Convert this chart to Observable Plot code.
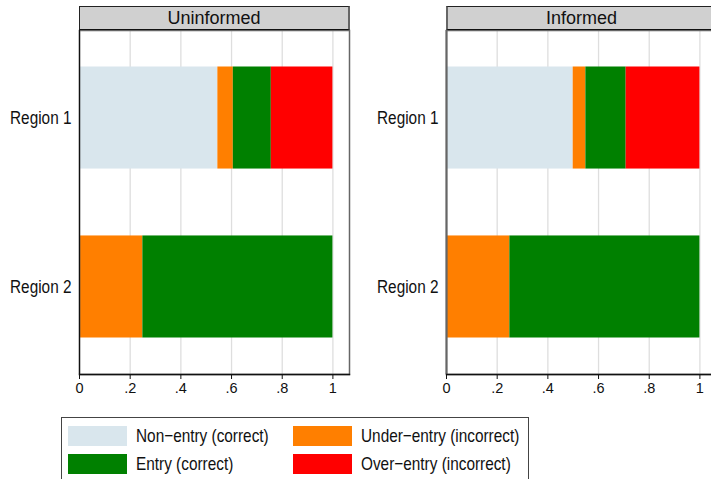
<!DOCTYPE html>
<html>
<head>
<meta charset="utf-8">
<script src="https://cdn.jsdelivr.net/npm/d3@7"></script>
<script src="https://cdn.jsdelivr.net/npm/@observablehq/plot@0.6"></script>
<style>
  html, body { margin: 0; padding: 0; background: #fff; overflow: hidden; }
  body { width: 711px; height: 479px; position: relative; font-family: "Liberation Sans", Arial, Helvetica, sans-serif; }
  .panel { position: absolute; top: 30px; width: 352px; height: 374px; }
  .panel svg { max-width: none !important; }
  .strip { position: absolute; top: 6px; height: 24px; box-sizing: border-box; background: #d0d0d0;
           border-top: 1px solid #222; border-bottom: 1.5px solid #111; border-right: 2px solid #666;
           font-size: 18px; line-height: 22px; text-align: center; color: #111; }
  .legend { position: absolute; left: 61px; top: 417px; width: 468px; height: 80px; box-sizing: border-box;
            border: 1px solid #444; }
  .item { position: absolute; color: #111; white-space: nowrap; transform-origin: 0 50%; }
  .sw { position: absolute; width: 59px; height: 20px; }
</style>
</head>
<body>
<div id="root"></div>
<script>
// ---- data ----
const conditions = ["Uninformed", "Informed"];
const regions = ["Region 1", "Region 2"];
const outcomes = ["Non−entry (correct)", "Under−entry (incorrect)", "Entry (correct)", "Over−entry (incorrect)"];
const outcomeColors = ["#d9e6ed", "#ff7f00", "#008000", "#ff0000"];
// shares per outcome (order as in `outcomes`)
const uninformedRegion1 = [0.546, 0.061, 0.150, 0.243];
const uninformedRegion2 = [0.000, 0.250, 0.750, 0.000];
const informedRegion1 = [0.500, 0.050, 0.159, 0.291];
const informedRegion2 = [0.000, 0.250, 0.750, 0.000];
const xTicks = [0, 0.2, 0.4, 0.6, 0.8, 1];
const xTickLabels = ["0", ".2", ".4", ".6", ".8", "1"];
const legendRows = [["Non−entry (correct)", "Under−entry (incorrect)"], ["Entry (correct)", "Over−entry (incorrect)"]];

const series = {
  "Uninformed": [uninformedRegion1, uninformedRegion2],
  "Informed": [informedRegion1, informedRegion2]
};

function rows(cond) {
  const out = [];
  regions.forEach((r, ri) => {
    outcomes.forEach((o, oi) => {
      out.push({region: r, outcome: o, value: series[cond][ri][oi]});
    });
  });
  return out;
}

const FONT = '"Liberation Sans", Arial, Helvetica, sans-serif';
// condensed label font (narrow face if installed, otherwise horizontally squeezed)
const ctx = document.createElement("canvas").getContext("2d");
ctx.font = '18px "Liberation Sans Narrow", monospace';
const wN = ctx.measureText("Region 1 abcdefg").width;
ctx.font = '18px monospace';
const wM = ctx.measureText("Region 1 abcdefg").width;
const hasNarrow = Math.abs(wN - wM) > 0.5;
const LABEL_FONT = hasNarrow ? '"Liberation Sans Narrow", "Liberation Sans", Arial, sans-serif' : FONT;
const LABEL_SIZE = 18.5;
const squeeze = hasNarrow ? 1 : 0.83;

const root = document.getElementById("root");
const panelLeft = [0, 367];

conditions.forEach((cond, ci) => {
  const chart = Plot.plot({
    width: 352,
    height: 374,
    marginLeft: 79,
    marginRight: 3,
    marginTop: 0,
    marginBottom: 30,
    style: {fontFamily: FONT, fontSize: "14.5px", color: "#111", background: "transparent", overflow: "visible", maxWidth: "none"},
    x: {domain: [0, 1.0655], label: null},
    y: {domain: regions, paddingInner: 0.396, paddingOuter: 0.216, round: false, label: null},
    color: {domain: outcomes, range: outcomeColors},
    marks: [
      Plot.gridX(xTicks.filter(d => d > 0), {stroke: "#dedede", strokeOpacity: 1, strokeWidth: 1.3}),
      Plot.barX(rows(cond), Plot.stackX({x: "value", y: "region", fill: "outcome", order: outcomes})),
      Plot.frame({stroke: "#666", strokeWidth: 1.5}),
      Plot.ruleX([0], {stroke: ci === 0 ? "#111" : "#666", strokeWidth: ci === 0 ? 1.2 : 2}),
      Plot.axisX({ticks: xTicks, tickSize: 5, tickPadding: 3, fontSize: 14.5, tickFormat: d => xTickLabels[xTicks.indexOf(d)], stroke: "#111"}),
      Plot.frame({anchor: "bottom", stroke: "#111", strokeWidth: 1.3}),
      Plot.axisY({tickSize: 0, tickPadding: 8, fontSize: LABEL_SIZE, fontFamily: LABEL_FONT})
    ]
  });
  if (squeeze !== 1) {
    chart.querySelectorAll('g[aria-label="y-axis tick label"] text').forEach(t => {
      const tr = t.getAttribute("transform") || "";
      t.setAttribute("transform", tr + ` scale(${squeeze},1)`);
    });
  }
  const wrap = document.createElement("div");
  wrap.className = "panel";
  wrap.style.left = panelLeft[ci] + "px";
  wrap.appendChild(chart);
  root.appendChild(wrap);

  const strip = document.createElement("div");
  strip.className = "strip";
  strip.style.left = (panelLeft[ci] + 79) + "px";
  strip.style.width = "271px";
  strip.style.borderLeft = ci === 1 ? "2px solid #666" : "1px solid #222";
  strip.textContent = cond;
  root.appendChild(strip);
});

// ---- legend ----
const legend = document.createElement("div");
legend.className = "legend";
root.appendChild(legend);
const colX = [6, 231];
const rowY = [8, 36];
legendRows.forEach((row, ri) => {
  row.forEach((name, ci) => {
    const sw = document.createElement("div");
    sw.className = "sw";
    sw.style.left = colX[ci] + "px";
    sw.style.top = (rowY[ri]) + "px";
    sw.style.background = outcomeColors[outcomes.indexOf(name)];
    legend.appendChild(sw);
    const t = document.createElement("div");
    t.className = "item";
    t.style.left = (colX[ci] + 68) + "px";
    t.style.top = (rowY[ri]) + "px";
    t.style.lineHeight = "20px";
    t.style.fontFamily = LABEL_FONT;
    t.style.fontSize = LABEL_SIZE + "px";
    if (squeeze !== 1) t.style.transform = `scaleX(${squeeze})`;
    t.textContent = name;
    legend.appendChild(t);
  });
});
</script>
</body>
</html>
